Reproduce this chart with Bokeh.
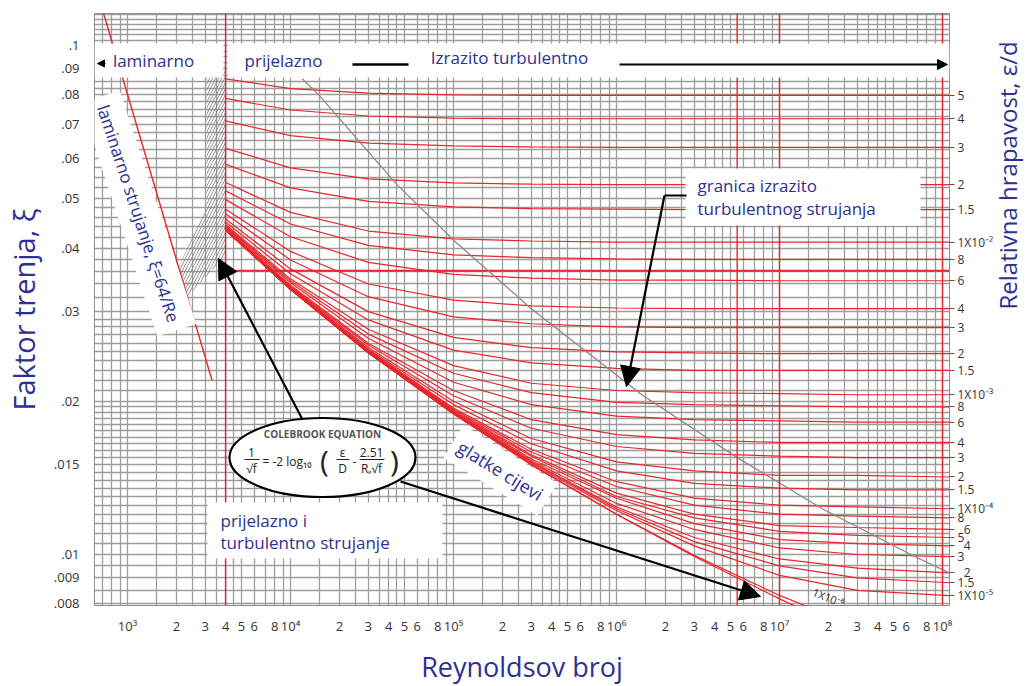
import math
from bokeh.plotting import figure
from bokeh.models import (Range1d, FixedTicker, LogAxis, Label, BoxAnnotation, Arrow,
                          NormalHead, Span)
from bokeh.embed import file_html
from bokeh.resources import INLINE

# ---------------- data ----------------
re_grid = [4e3, 1e4, 3e4, 1e5, 3e5, 1e6, 3e6, 1e7, 3e7, 1.1e8]

f_050   = [0.0860, 0.0823, 0.0806, 0.0800, 0.0798, 0.0798, 0.0798, 0.0798, 0.0798, 0.0798]
f_040   = [0.0787, 0.0747, 0.0727, 0.0720, 0.0718, 0.0718, 0.0718, 0.0718, 0.0718, 0.0718]
f_030   = [0.0711, 0.0665, 0.0643, 0.0635, 0.0632, 0.0631, 0.0631, 0.0631, 0.0631, 0.0631]
f_020   = [0.0628, 0.0575, 0.0547, 0.0537, 0.0534, 0.0533, 0.0533, 0.0533, 0.0533, 0.0533]
f_015   = [0.0584, 0.0525, 0.0494, 0.0482, 0.0478, 0.0477, 0.0476, 0.0476, 0.0476, 0.0476]
f_010   = [0.0538, 0.0470, 0.0432, 0.0417, 0.0413, 0.0411, 0.0411, 0.0411, 0.0411, 0.0411]
f_008   = [0.0518, 0.0446, 0.0405, 0.0388, 0.0383, 0.0381, 0.0380, 0.0380, 0.0380, 0.0380]
f_006   = [0.0498, 0.0421, 0.0375, 0.0355, 0.0349, 0.0346, 0.0346, 0.0345, 0.0345, 0.0345]
f_004   = [0.0477, 0.0394, 0.0340, 0.0316, 0.0308, 0.0305, 0.0304, 0.0304, 0.0304, 0.0304]
f_003   = [0.0467, 0.0379, 0.0321, 0.0293, 0.0284, 0.0280, 0.0279, 0.0279, 0.0279, 0.0279]
f_002   = [0.0456, 0.0364, 0.0300, 0.0267, 0.0255, 0.0250, 0.0249, 0.0248, 0.0248, 0.0248]
f_0015  = [0.0450, 0.0356, 0.0289, 0.0252, 0.0238, 0.0232, 0.0230, 0.0230, 0.0230, 0.0230]
f_001   = [0.0445, 0.0348, 0.0277, 0.0235, 0.0217, 0.0210, 0.0208, 0.0207, 0.0206, 0.0206]
f_0008  = [0.0442, 0.0345, 0.0271, 0.0227, 0.0208, 0.0199, 0.0197, 0.0196, 0.0195, 0.0195]
f_0006  = [0.0440, 0.0342, 0.0266, 0.0218, 0.0197, 0.0187, 0.0184, 0.0183, 0.0182, 0.0182]
f_0004  = [0.0438, 0.0338, 0.0260, 0.0210, 0.0184, 0.0172, 0.0168, 0.0166, 0.0166, 0.0166]
f_0003  = [0.0437, 0.0336, 0.0258, 0.0205, 0.0177, 0.0163, 0.0158, 0.0156, 0.0155, 0.0155]
f_0002  = [0.0435, 0.0335, 0.0255, 0.0200, 0.0169, 0.0152, 0.0146, 0.0143, 0.0143, 0.0142]
f_00015 = [0.0435, 0.0334, 0.0253, 0.0197, 0.0165, 0.0146, 0.0138, 0.0135, 0.0134, 0.0134]
f_0001  = [0.0434, 0.0333, 0.0252, 0.0194, 0.0161, 0.0139, 0.0129, 0.0125, 0.0124, 0.0123]
f_8em5  = [0.0434, 0.0333, 0.0251, 0.0193, 0.0159, 0.0136, 0.0125, 0.0120, 0.0119, 0.0118]
f_6em5  = [0.0434, 0.0332, 0.0251, 0.0192, 0.0157, 0.0132, 0.0120, 0.0114, 0.0113, 0.0112]
f_5em5  = [0.0434, 0.0332, 0.0250, 0.0191, 0.0156, 0.0130, 0.0118, 0.0111, 0.0109, 0.0108]
f_4em5  = [0.0434, 0.0332, 0.0250, 0.0191, 0.0154, 0.0129, 0.0115, 0.0107, 0.0105, 0.0104]
f_3em5  = [0.0434, 0.0332, 0.0250, 0.0190, 0.0153, 0.0126, 0.0112, 0.0103, 0.0100, 0.0099]
f_2em5  = [0.0434, 0.0332, 0.0249, 0.0190, 0.0152, 0.0124, 0.0108, 0.0098, 0.0094, 0.0092]
f_15em6 = [0.0434, 0.0332, 0.0249, 0.0189, 0.0152, 0.0123, 0.0106, 0.0095, 0.0090, 0.0088]
f_1em5  = [0.0434, 0.0332, 0.0249, 0.0189, 0.0151, 0.0122, 0.0104, 0.0091, 0.0085, 0.0083]
f_1em6  = [0.0434, 0.0332, 0.0249, 0.0189, 0.0150, 0.0120, 0.00996, 0.00831, 0.00722, 0.00644]
f_smooth = [0.0433, 0.0332, 0.0249, 0.0189, 0.0150, 0.0120, 0.00991, 0.00818, 0.00697, 0.00592]

rough_curves = [f_050, f_040, f_030, f_020, f_015, f_010, f_008, f_006, f_004, f_003,
                f_002, f_0015, f_001, f_0008, f_0006, f_0004, f_0003, f_0002, f_00015,
                f_0001, f_8em5, f_6em5, f_5em5, f_4em5, f_3em5, f_2em5, f_15em6, f_1em5]
rough_labels = ["5", "4", "3", "2", "1.5", "1X10\u207b\u00b2", "8", "6", "4", "3", "2", "1.5",
                "1X10\u207b\u00b3", "8", "6", "4", "3", "2", "1.5", "1X10\u207b\u2074",
                "8", "6", "5", "4", "3", "2", "1.5", "1X10\u207b\u2075"]
label_shifted = [21, 23, 25]

# laminar line f = 64/Re (end points)
lam_re = [700, 3300]
lam_f = [0.118, 0.022]

# boundary of fully turbulent flow (grey line)
bound_re = [1.18e4, 1.5e4, 4.5e4, 1.03e5, 3.0e5, 1.43e6, 5.5e6, 1.83e7, 6.8e7, 1.1e8]
bound_f = [0.086, 0.0798, 0.0533, 0.0411, 0.0304, 0.0206, 0.0155, 0.0123, 0.0099, 0.0092]

# red rules of the original sheet
red_rule_re = [4e3, 5.5e6, 1e7, 1e8]
red_rule_f = [0.0361]

# axis ticks
x_ticks = [1e3, 2e3, 3e3, 4e3, 5e3, 6e3, 8e3,
           1e4, 2e4, 3e4, 4e4, 5e4, 6e4, 8e4,
           1e5, 2e5, 3e5, 4e5, 5e5, 6e5, 8e5,
           1e6, 2e6, 3e6, 4e6, 5e6, 6e6, 8e6,
           1e7, 2e7, 3e7, 4e7, 5e7, 6e7, 8e7, 1e8]
x_tick_labels = ["10\u00b3", "2", "3", "4", "5", "6", "8",
                 "10\u2074", "2", "3", "4", "5", "6", "8",
                 "10\u2075", "2", "3", "4", "5", "6", "8",
                 "10\u2076", "2", "3", "4", "5", "6", "8",
                 "10\u2077", "2", "3", "4", "5", "6", "8", "10\u2078"]
y_ticks = [0.008, 0.009, 0.01, 0.015, 0.02, 0.03, 0.04, 0.05, 0.06, 0.07, 0.08, 0.09, 0.1]
y_tick_labels = [".008", ".009", ".01", ".015", ".02", ".03", ".04", ".05", ".06", ".07",
                 ".08", ".09", ".1"]

# ---------------- styling ----------------
BLUE = "#2e3192"
RED = "#e8262b"
GRID = "#9d9d9d"
FONT = "Open Sans"


def RX(px):
    """reference pixel column -> Reynolds number"""
    return 10 ** (3 + (px - 125) / 163.0)


def FY(py):
    """reference pixel row -> friction factor"""
    return 10 ** (-1 - (py - 45) / 509.0)


p = figure(x_axis_type="log", y_axis_type="log",
           x_range=Range1d(RX(92), RX(947)), y_range=Range1d(FY(605), FY(13)),
           frame_width=855, frame_height=592,
           min_border_left=92, min_border_right=82, min_border_top=13, min_border_bottom=81,
           toolbar_location=None, output_backend="svg",
           background_fill_color="white", border_fill_color="white")
p.outline_line_color = "#8c8c8c"

# grid
xg = []
for k in range(2, 9):
    for m in [1, 1.5, 2, 2.5, 3, 3.5, 4, 4.5, 5, 6, 7, 8, 9]:
        xg.append(m * 10 ** k)
yg = []
v = 0.008
while v < 0.0199:
    yg.append(round(v, 5)); v += 0.0005
v = 0.02
while v < 0.0299:
    yg.append(round(v, 5)); v += 0.001
v = 0.03
while v < 0.0499:
    yg.append(round(v, 5)); v += 0.002
v = 0.05
while v < 0.1199:
    yg.append(round(v, 5)); v += 0.0025
p.xgrid.ticker = FixedTicker(ticks=xg)
p.ygrid.ticker = FixedTicker(ticks=yg)
p.grid.grid_line_color = GRID
p.grid.grid_line_width = 1.3

# axes
p.xaxis.ticker = FixedTicker(ticks=x_ticks)
p.xaxis.major_label_overrides = dict(zip(x_ticks, x_tick_labels))
p.yaxis.ticker = FixedTicker(ticks=y_ticks)
p.yaxis.major_label_overrides = dict(zip(y_ticks, y_tick_labels))
for ax in (p.xaxis, p.yaxis):
    ax.axis_line_color = None
    ax.major_tick_line_color = None
    ax.minor_tick_line_color = None
    ax.major_tick_out = 0
    ax.major_tick_in = 0
    ax.minor_tick_out = 0
    ax.major_label_text_font = FONT
    ax.major_label_text_font_size = "13px"
    ax.major_label_text_color = "#333333"
    ax.axis_label_text_font = FONT
    ax.axis_label_text_font_style = "normal"
    ax.axis_label_text_color = BLUE
p.xaxis.major_label_standoff = 11
p.yaxis.major_label_standoff = 15
p.xaxis.axis_label = "Reynoldsov broj"
p.xaxis.axis_label_text_font_size = "27px"
p.xaxis.axis_label_standoff = 10
p.yaxis.axis_label = "Faktor trenja, \u03be"
p.yaxis.axis_label_text_font_size = "29px"
p.yaxis.axis_label_standoff = 8

# right axis: relative roughness labels at the curve ends
right_ticks = [c[-1] for c in rough_curves]
right_text = [("\u00a0\u00a0" + s if i in label_shifted else s)
              for i, s in enumerate(rough_labels)]
rax = LogAxis(ticker=FixedTicker(ticks=right_ticks),
              major_label_overrides=dict(zip(right_ticks, right_text)),
              axis_line_color=None, major_tick_in=0, major_tick_out=5,
              major_tick_line_color="#555555", minor_tick_line_color=None,
              minor_tick_out=0, minor_tick_in=0,
              major_label_standoff=3, major_label_text_font=FONT,
              major_label_text_font_size="12px", major_label_text_color="#333333",
              axis_label="Relativna hrapavost, \u03b5/d", axis_label_text_font=FONT,
              axis_label_text_font_size="24px", axis_label_text_font_style="normal",
              axis_label_text_color=BLUE, axis_label_standoff=11,
              axis_label_orientation=math.pi / 2)
p.add_layout(rax, "right")

# red rules
for r in red_rule_re:
    p.add_layout(Span(location=r, dimension="height", line_color=RED, line_width=1.4))
p.segment(x0=[red_rule_re[0]] * len(red_rule_f), y0=red_rule_f,
          x1=[RX(947)] * len(red_rule_f), y1=red_rule_f, line_color=RED, line_width=2.2)

# critical zone hatch
hx = [RX(204), RX(223), RX(223), RX(183), RX(172), RX(204)]
hy = [FY(66), FY(66), FY(256), FY(298), FY(276), FY(205)]
p.patch(hx, hy, fill_alpha=0, line_color=None, hatch_pattern="/", hatch_color="#7a7a7a",
        hatch_scale=6, hatch_weight=0.8)

# curves
for fc in rough_curves:
    p.line(re_grid, fc, line_color=RED, line_width=1.2)
p.line(re_grid, f_1em6, line_color=RED, line_width=1.2)
p.line(re_grid, f_smooth, line_color=RED, line_width=1.2)
p.line(lam_re, lam_f, line_color=RED, line_width=1.4)
p.line(bound_re, bound_f, line_color="#8a8a8a", line_width=1.3)

# Colebrook ellipse
p.ellipse(x=[RX(320)], y=[FY(457)], width=186, height=79, width_units="screen",
          height_units="screen", fill_color="white", line_color="black", line_width=2.2)
p.segment(x0=[RX(242), RX(334), RX(357)], y0=[FY(459)] * 3,
          x1=[RX(257), RX(347), RX(382)], y1=[FY(459)] * 3, line_color="#222222", line_width=1)


def txt(px, py, s, size, color=BLUE, angle=0.0, align="center", baseline="middle",
        bg=None, pad=0, style="normal"):
    lab = Label(x=RX(px), y=FY(py), text=s, text_font=FONT, text_font_size=f"{size}px",
                text_color=color, angle=angle, text_align=align, text_baseline=baseline,
                text_font_style=style)
    if bg is not None:
        lab.background_fill_color = bg
        lab.background_fill_alpha = 1.0
        lab.padding = pad
    p.add_layout(lab)


def box(x0, y0, x1, y1):
    p.add_layout(BoxAnnotation(left=RX(x0), right=RX(x1), top=FY(y0), bottom=FY(y1),
                               fill_color="white", fill_alpha=1.0, line_color=None))


def arrow(x0, y0, x1, y1, head=20, width=2.2):
    end = NormalHead(size=head, fill_color="black", line_color="black") if head else None
    p.add_layout(Arrow(end=end, x_start=RX(x0), y_start=FY(y0), x_end=RX(x1), y_end=FY(y1),
                       line_color="black", line_width=width))


# top band
box(92, 43, 221, 77)
box(225, 43, 947, 77)
txt(151, 60, "laminarno", 17)
txt(281, 60, "prijelazno", 17)
txt(507, 57, "Izrazito turbulentno", 17)
arrow(350, 64, 406, 64, head=0, width=2.5)
arrow(617, 64, 945, 64, head=10, width=1.8)
arrow(103, 63, 95, 63, head=7, width=1)

# other boxes
box(683, 168, 918, 225)
txt(695, 185, "granica izrazito", 17, align="left")
txt(695, 208, "turbulentnog strujanja", 17, align="left")
box(205, 502, 440, 558)
txt(218, 520, "prijelazno i", 17, align="left")
txt(218, 542, "turbulentno strujanje", 17, align="left")
txt(498, 470, "glatke cijevi", 18, angle=-0.553, bg="white", pad=7)
txt(136, 213, "laminarno strujanje, \u03be=64/Re", 17, angle=-1.253, bg="white", pad=9)

# arrows
arrow(300, 419, 216, 258)
arrow(398, 481, 758, 596)
arrow(684, 195, 662, 195, head=0)
arrow(662, 195, 624, 386)

# equation inside ellipse
EQ = "#222222"
txt(320, 433, "COLEBROOK EQUATION", 10, color="#555555", style="bold")
txt(249, 452, "1", 12, color=EQ)
txt(249, 468, "\u221af", 12, color=EQ)
txt(260, 461, "= -2 log\u2081\u2080", 12, color=EQ, align="left")
txt(322, 460, "(", 30, color=EQ)
txt(340, 452, "\u03b5", 12, color=EQ)
txt(340, 468, "D", 12, color=EQ)
txt(352, 461, "-", 12, color=EQ)
txt(369, 452, "2.51", 12, color=EQ)
txt(369, 468, "R\u2091\u221af", 12, color=EQ)
txt(392, 460, ")", 30, color=EQ)

# label of the 1e-6 curve, where it leaves the chart
txt(826, 597, "1X10\u207b\u2076", 11, color="#333333", angle=-0.38)

open("out.html", "w").write(file_html(p, INLINE))
